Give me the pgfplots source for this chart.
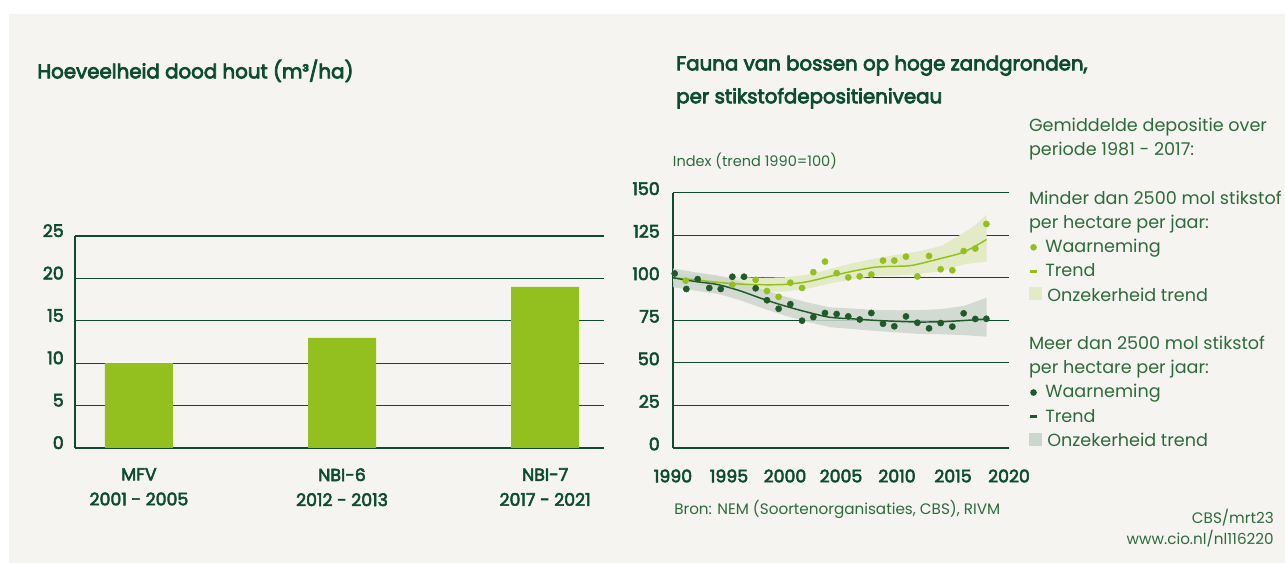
\documentclass[border=0pt]{standalone}
\usepackage{fontspec}
\setmainfont{Poppins}
\newfontfamily\semib{Poppins}[FakeBold=3.2]
\newfontfamily\titleb{Poppins}[FakeBold=3.8]
\usepackage{pgfplots}
\pgfplotsset{compat=1.18}
\definecolor{bg}{HTML}{F5F4F0}
\definecolor{dgreen}{HTML}{0E4C32}
\definecolor{tgreen}{HTML}{2E6B3B}
\definecolor{lgreen}{HTML}{93C01F}
\definecolor{pgreen}{HTML}{1F5A2A}
\definecolor{lband}{HTML}{E2EAC6}
\definecolor{gband}{HTML}{CCD6CC}
\newcommand{\tickfont}{\fontsize{13}{18.75}\selectfont\semib}
\newcommand{\legfont}{\fontsize{13.2}{16}\selectfont}
\newcommand{\smallfont}{\fontsize{11.4}{14}\selectfont}
\newcommand{\titlefont}{\fontsize{14.85}{17}\selectfont\titleb}

\begin{document}
\begin{tikzpicture}
\useasboundingbox (0,0) rectangle (963.75pt,422.25pt);
\fill[white] (0,0) rectangle (963.75pt,422.25pt);
\fill[bg] (6.75pt,0) rectangle (963.75pt,411.75pt);

% ---------- bar chart ----------
\begin{axis}[
  at={(56.25pt,86.25pt)}, anchor=south west,
  scale only axis, width=396.75pt, height=159pt,
  xmin=-0.315, xmax=2.29, ymin=0, ymax=25,
  ytick={0,5,10,15,20,25}, xtick={0,1,2},
  xticklabels={{MFV\\2001 - 2005},{NBI-6\\2012 - 2013},{NBI-7\\2017 - 2021}},
  /pgf/number format/assume math mode=true,
  axis x line*=bottom, axis y line*=left,
  axis line style={-, dgreen, line width=1.5pt},
  ymajorgrids, grid style={dgreen, line width=0.8pt},
  tick style={draw=none}, major tick length=0pt,
  yticklabel style={anchor=east, inner sep=0pt, xshift=-8.25pt, yshift=4pt, font=\tickfont, text=dgreen},
  xticklabel style={anchor=north, inner sep=0pt, yshift=-15pt, align=center, font=\tickfont, text=dgreen},
]
\addplot[ybar, bar width=51pt, fill=lgreen, draw=none] coordinates {(0,10) (1,13) (2,19)};
\end{axis}

% ---------- line chart ----------
\begin{axis}[
  at={(504.75pt,86.25pt)}, anchor=south west,
  scale only axis, width=252pt, height=191.5pt,
  xmin=1990, xmax=2020, ymin=0, ymax=150,
  xtick={1990,1995,...,2020}, ytick={0,25,...,150},
  /pgf/number format/assume math mode=true,
  /pgf/number format/1000 sep={},
  axis x line*=bottom, axis y line*=left,
  axis line style={-, dgreen, line width=1.3pt},
  ymajorgrids, grid style={dgreen, line width=0.8pt},
  tick style={draw=none}, major tick length=0pt,
  yticklabel style={anchor=east, inner sep=0pt, xshift=-9.75pt, yshift=3pt, font=\tickfont, text=dgreen},
  xticklabel style={anchor=north, inner sep=0pt, yshift=-16pt, font=\tickfont, text=dgreen},
  clip=false,
  legend cell align=left,
  legend style={at={(1.0595,1.3016)}, anchor=north west, draw=none, fill=none,
    inner sep=0pt, outer sep=0pt, row sep=0pt, column sep=2.5pt,
    font=\legfont, text=tgreen, cells={anchor=base west},
    nodes={inner sep=0pt, text height=12pt, text depth=6.15pt}},
]
% uncertainty bands
\addplot[fill=lband, draw=none, forget plot] coordinates {
 (1990,102.5) (1992,101.8) (1994,100.8) (1996,100.3) (1998,100.0) (2000,100.3) (2002,101.8) (2004,105.0) (2006,108.5) (2008,111.3) (2010,113.5) (2012,115.6) (2014,118.8) (2016,126.5) (2017,131.0) (2018,137.0)
 (2018,109.5) (2017,108.8) (2016,107.9) (2014,104.0) (2012,102.2) (2010,101.3) (2008,101.1) (2006,99.1) (2004,96.6) (2002,93.6) (2000,91.9) (1998,91.8) (1996,92.3) (1994,93.8) (1992,95.8) (1990,97.5)
} -- cycle;
\addplot[fill=gband, fill opacity=0.85, draw=none, forget plot] coordinates {
 (1990,105.5) (1992,103.2) (1994,101.4) (1996,97.8) (1998,93.1) (2000,89.0) (2002,85.5) (2004,82.6) (2006,81.9) (2008,81.2) (2010,80.9) (2012,81.0) (2014,81.6) (2016,83.5) (2018,88.3)
 (2018,65.4) (2016,66.3) (2014,66.8) (2012,67.0) (2010,67.9) (2008,68.8) (2006,69.9) (2004,71.0) (2002,74.1) (2000,77.8) (1998,82.1) (1996,86.8) (1994,90.6) (1992,92.4) (1990,94.5)
} -- cycle;
% trends
\addplot[lgreen, line width=1.1pt, smooth, forget plot] coordinates {
 (1990,100) (1992,98.8) (1994,97.3) (1996,96.3) (1998,95.9) (2000,96.1) (2002,97.7) (2004,100.8) (2006,103.8) (2008,106.2) (2009,106.6) (2011,107.0) (2012,108.2) (2014,111.5) (2016,115.2) (2018,122.5)
};
\addplot[pgreen, line width=1.1pt, smooth, forget plot] coordinates {
 (1990,100) (1992,97.8) (1994,96.0) (1996,92.3) (1998,87.6) (2000,83.4) (2002,79.8) (2004,76.8) (2006,75.9) (2008,75.0) (2010,74.4) (2012,74.0) (2014,74.2) (2016,74.9) (2018,75.8)
};
% observations
\addplot[color=lgreen, only marks, mark=*, mark size=2.3pt, forget plot] coordinates {
 (1991.13,98.3) (1995.30,95.9) (1997.38,98.8) (1998.39,92.2) (1999.43,88.8) (2000.48,97.1) (2001.52,94.0) (2002.53,103.3) (2003.57,109.5) (2004.61,102.7) (2005.65,100.2) (2006.67,100.8) (2007.71,101.9) (2008.75,110.1) (2009.76,110.1) (2010.80,112.4) (2011.82,100.8) (2012.86,112.8) (2013.90,105.0) (2014.94,104.4) (2015.95,115.7) (2016.99,117.2) (2017.98,131.6)
};
\addplot[color=pgreen, only marks, mark=*, mark size=2.3pt, forget plot] coordinates {
 (1990.15,102.5) (1991.19,93.4) (1992.20,99.2) (1993.24,94.0) (1994.26,93.4) (1995.30,100.6) (1996.34,100.6) (1997.38,93.8) (1998.39,86.8) (1999.43,81.8) (2000.48,84.5) (2001.52,74.8) (2002.53,76.9) (2003.57,79.3) (2004.61,78.7) (2005.65,77.3) (2006.67,75.5) (2007.71,79.3) (2008.75,73.0) (2009.76,71.5) (2010.80,77.3) (2011.82,73.6) (2012.86,70.3) (2013.90,73.4) (2014.94,71.3) (2015.95,79.1) (2016.99,75.8) (2017.98,75.9)
};
% legend
\addlegendimage{empty legend}\addlegendentry{\hspace*{-12.25pt}Gemiddelde depositie over}
\addlegendimage{empty legend}\addlegendentry{\hspace*{-12.25pt}periode 1981 - 2017:}
\addlegendimage{empty legend}\addlegendentry{\mbox{}}
\addlegendimage{empty legend}\addlegendentry{\hspace*{-12.25pt}Minder dan 2500 mol stikstof}
\addlegendimage{empty legend}\addlegendentry{\hspace*{-12.25pt}per hectare per jaar:}
\addlegendimage{draw=none, legend image code/.code={\path[draw=none, fill=none] (0pt,0pt) rectangle (9.75pt,9pt); \path[draw=none, fill=lgreen] (3.4pt,4pt) circle (2.5pt);}}\addlegendentry{Waarneming}
\addlegendimage{draw=none, legend image code/.code={\path[draw=none, fill=none] (0pt,0pt) rectangle (9.75pt,9pt); \path[draw=none, fill=lgreen] (0.75pt,2.9pt) rectangle (6pt,5.1pt);}}\addlegendentry{Trend}
\addlegendimage{draw=none, legend image code/.code={\path[draw=none, fill=lband] (0pt,0.5pt) rectangle (9.75pt,10.25pt);}}\addlegendentry{\hspace*{1.5pt}Onzekerheid trend}
\addlegendimage{empty legend}\addlegendentry{\mbox{}}
\addlegendimage{empty legend}\addlegendentry{\hspace*{-12.25pt}Meer dan 2500 mol stikstof}
\addlegendimage{empty legend}\addlegendentry{\hspace*{-12.25pt}per hectare per jaar:}
\addlegendimage{draw=none, legend image code/.code={\path[draw=none, fill=none] (0pt,0pt) rectangle (9.75pt,9pt); \path[draw=none, fill=pgreen] (3.4pt,4pt) circle (2.5pt);}}\addlegendentry{Waarneming}
\addlegendimage{draw=none, legend image code/.code={\path[draw=none, fill=none] (0pt,0pt) rectangle (9.75pt,9pt); \path[draw=none, fill=pgreen] (0.75pt,2.9pt) rectangle (6pt,5.1pt);}}\addlegendentry{Trend}
\addlegendimage{draw=none, legend image code/.code={\path[draw=none, fill=gband] (0pt,0.5pt) rectangle (9.75pt,10.25pt);}}\addlegendentry{\hspace*{1.5pt}Onzekerheid trend}
\end{axis}

% ---------- texts ----------
\node[anchor=base west, inner sep=0pt, font=\titlefont, text=dgreen] at (27.9pt,363.5pt) {Hoeveelheid dood hout (m³/ha)};
\node[anchor=base west, inner sep=0pt, font=\titlefont, text=dgreen] at (507pt,369.5pt) {Fauna van bossen op hoge zandgronden,};
\node[anchor=base west, inner sep=0pt, font=\titlefont, text=dgreen] at (507pt,344.8pt) {per stikstofdepositieniveau};
\node[anchor=base west, inner sep=0pt, font=\fontsize{10.9}{14}\selectfont, text=tgreen] at (504.5pt,297.2pt) {Index (trend 1990=100)};
\node[anchor=base west, inner sep=0pt, font=\smallfont, text=tgreen] at (505.5pt,36pt) {Bron: NEM (Soortenorganisaties, CBS), RIVM};
\node[anchor=base east, inner sep=0pt, font=\smallfont, text=tgreen] at (955.5pt,29.8pt) {CBS/mrt23};
\node[anchor=base east, inner sep=0pt, font=\smallfont, text=tgreen] at (955.5pt,13.5pt) {www.cio.nl/nl116220};
\end{tikzpicture}
\end{document}
